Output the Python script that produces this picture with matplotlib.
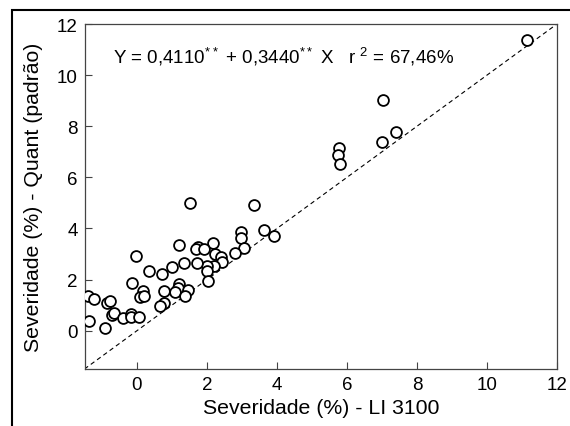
import matplotlib
matplotlib.use("Agg")
import matplotlib.pyplot as plt
from matplotlib.patches import Rectangle

plt.rcParams['font.family'] = ['Liberation Sans', 'DejaVu Sans']
plt.rcParams['mathtext.fontset'] = 'custom'
plt.rcParams['mathtext.rm'] = 'Liberation Sans'

li3100 = [11.13, 7.03, 7.39, 7.00, 5.77, 5.73, 5.80, 1.51, 3.33, 3.63, 3.90, 2.97,
          2.97, 3.07, 2.81, 1.19, 2.17, 1.73, 1.68, 1.92, 2.22, 2.40, 2.42, 2.19,
          2.00, 1.99, 1.71, 1.35, 1.00, 0.33, -0.02, 0.71, 2.04, -0.14, 1.20, 1.16,
          1.47, 1.08, 1.37, 0.78, 0.18, 0.09, 0.21, 0.77, 0.67, -1.39, -1.24, -0.86,
          -0.76, -0.71, -0.65, -0.39, -0.17, -0.16, 0.05, -1.36, -0.92]
quant = [11.37, 9.04, 7.78, 7.39, 7.13, 6.87, 6.51, 4.98, 4.92, 3.95, 3.72, 3.85,
         3.62, 3.25, 3.02, 3.34, 3.42, 3.26, 3.19, 3.19, 3.00, 2.88, 2.70, 2.54,
         2.54, 2.35, 2.63, 2.63, 2.50, 2.35, 2.92, 2.22, 1.93, 1.85, 1.83, 1.66,
         1.60, 1.50, 1.34, 1.56, 1.55, 1.30, 1.37, 1.08, 0.96, 1.37, 1.24, 1.07,
         1.17, 0.61, 0.69, 0.48, 0.64, 0.52, 0.52, 0.39, 0.12]
ref_line = [-1.5, 12]
ticks = [0, 2, 4, 6, 8, 10, 12]
equation = r'Y = 0,4110$\mathregular{^{**}}$ + 0,3440$\mathregular{^{**}}$ X   r $\mathregular{^{2}}$ = 67,46%'

fig = plt.figure(figsize=(5.7, 4.27), dpi=100)
ax = fig.add_axes([84.5/570, 57/427, (557-84.5)/570, (370-25)/427])

ax.plot(ref_line, ref_line, ls=(0, (4, 3)), color='black', lw=0.8, zorder=1)
ax.plot(li3100, quant, ls='none', marker='o', ms=7.8, mfc='white', mec='black',
        mew=1.3, zorder=3)

ax.set_xlim(-1.5, 12)
ax.set_ylim(-1.5, 12)
ax.set_xticks(ticks)
ax.set_yticks(ticks)
ax.tick_params(direction='in', length=5, width=0.8, color='#444444', labelsize=13.5, pad=5)
for s in ax.spines.values():
    s.set_color('#444444')
    s.set_linewidth(0.9)

ax.set_xlabel('Severidade (%) - LI 3100', fontsize=15.3, labelpad=4)
ax.set_ylabel('Severidade (%) - Quant (padrão)', fontsize=15.3, labelpad=10)

ax.text(-0.69, 10.75, equation, fontsize=13.5, va='center', ha='left')

fig.patches.append(Rectangle((12/570, -0.1), 1.2, 0.1 + (427-10.5)/427,
                             transform=fig.transFigure, fill=False,
                             edgecolor='black', lw=1.5, zorder=10))

fig.savefig('out.png', dpi=100)
